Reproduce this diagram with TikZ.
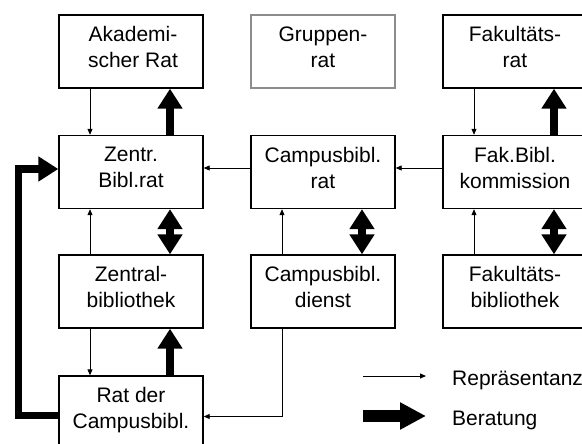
\documentclass[tikz,border=0pt]{standalone}
\usepackage{fontspec}
\setmainfont{Liberation Sans}
\usetikzlibrary{arrows.meta,calc}
\begin{document}
\begin{tikzpicture}[x=1pt,y=-1pt,
  box/.style={draw,line width=1.4pt,minimum width=144pt,minimum height=73pt,inner sep=0pt},
  lbl/.style={font=\fontsize{21}{26}\selectfont,align=center,inner sep=0pt,anchor=north},
  leg/.style={font=\fontsize{21}{26}\selectfont,inner sep=0pt,anchor=base west},
  thinarr/.style={line width=0.9pt,-{Triangle[length=6pt,width=5pt]}},
  thickarr/.style={line width=7.3pt,-{Triangle[length=20pt,width=24pt]}},
  bothway/.style={line width=7.3pt,{Triangle[length=20pt,width=24pt]}-{Triangle[length=20pt,width=24pt]}},
]
\useasboundingbox (0,0) rectangle (582,444);
\clip (0,0) rectangle (582,444);

% boxes
\node[box] (akad) at (131,51.5) {};
\node[box,draw=black!45] (grup) at (323,51.5) {};
\node[box] (fakr) at (515,51.5) {};
\node[box] (zbr) at (131,172) {};
\node[box] (cbr) at (323,172) {};
\node[box] (fbk) at (515,172) {};
\node[box] (zb) at (131,291.5) {};
\node[box] (cbd) at (323,291.5) {};
\node[box] (fb) at (515,291.5) {};
\node[box] (rcb) at (131,412.5) {};

% labels
\node[lbl] (akadT) at ($(akad.north)+(2,12)$) {Akademi-\\scher Rat};
\node[lbl] (grupT) at ($(grup.north)+(0,12)$) {Gruppen-\\rat};
\node[lbl] (fakrT) at ($(fakr.north)+(0,12)$) {Fakultäts-\\rat};
\node[lbl] (zbrT) at ($(zbr.north)+(0,12)$) {Zentr.\\Bibl.rat};
\node[lbl] (cbrT) at ($(cbr.north)+(0,12)$) {Campusbibl.\\rat};
\node[lbl] (fbkT) at ($(fbk.north)+(0,12)$) {Fak.Bibl.\\kommission};
\node[lbl] (zbT) at ($(zb.north)+(0,12)$) {Zentral-\\bibliothek};
\node[lbl] (cbdT) at ($(cbd.north)+(0,12)$) {Campusbibl.\\dienst};
\node[lbl] (fbT) at ($(fb.north)+(0,12)$) {Fakultäts-\\bibliothek};
\node[lbl] (rcbT) at ($(rcb.north)+(0,12)$) {Rat der\\Campusbibl.};

% row 1 - row 2
\draw[thinarr] ([xshift=-41pt]akad.south) -- ([xshift=-41pt]zbr.north);
\draw[thickarr] ([xshift=39pt]zbr.north) -- ([xshift=39pt]akad.south);
\draw[thinarr] ([xshift=-41pt]fakr.south) -- ([xshift=-41pt]fbk.north);
\draw[thickarr] ([xshift=39pt]fbk.north) -- ([xshift=39pt]fakr.south);

% row 2 horizontals
\draw[thinarr] ([yshift=4pt]cbr.west) -- ([yshift=4pt]zbr.east);
\draw[thinarr] ([yshift=4pt]fbk.west) -- ([yshift=4pt]cbr.east);

% row 3 - row 2
\draw[thinarr] ([xshift=-41pt]zb.north) -- ([xshift=-41pt]zbr.south);
\draw[bothway] ([xshift=39pt]zb.north) -- ([xshift=39pt]zbr.south);
\draw[thinarr] ([xshift=-41pt]cbd.north) -- ([xshift=-41pt]cbr.south);
\draw[bothway] ([xshift=39pt]cbd.north) -- ([xshift=39pt]cbr.south);
\draw[thinarr] ([xshift=-41pt]fb.north) -- ([xshift=-41pt]fbk.south);
\draw[bothway] ([xshift=39pt]fb.north) -- ([xshift=39pt]fbk.south);

% row 3 - row 4
\draw[thinarr] ([xshift=-41pt]zb.south) -- ([xshift=-41pt]rcb.north);
\draw[thickarr] ([xshift=39pt]rcb.north) -- ([xshift=39pt]zb.south);
\draw[thinarr] ([xshift=-41pt]cbd.south) |- ([yshift=-4pt]rcb.east);

% feedback loop
\draw[thickarr,line join=miter] ([yshift=-3pt]rcb.west) -| ([xshift=-40pt,yshift=3pt]zbr.west) -- ([yshift=3pt]zbr.west);

% legend
\coordinate (l1a) at (363,376);
\coordinate (l1b) at (426,376);
\coordinate (l2a) at (363,416);
\coordinate (l2b) at (426,416);
\draw[thinarr] (l1a) -- (l1b);
\draw[line width=11.7pt,-{Triangle[length=26pt,width=25.6pt]}] (l2a) -- (l2b);
\node[leg] (repT) at (452,385.7) {Repräsentanz};
\node[leg] (berT) at (452,425.7) {Beratung};
\end{tikzpicture}
\end{document}
